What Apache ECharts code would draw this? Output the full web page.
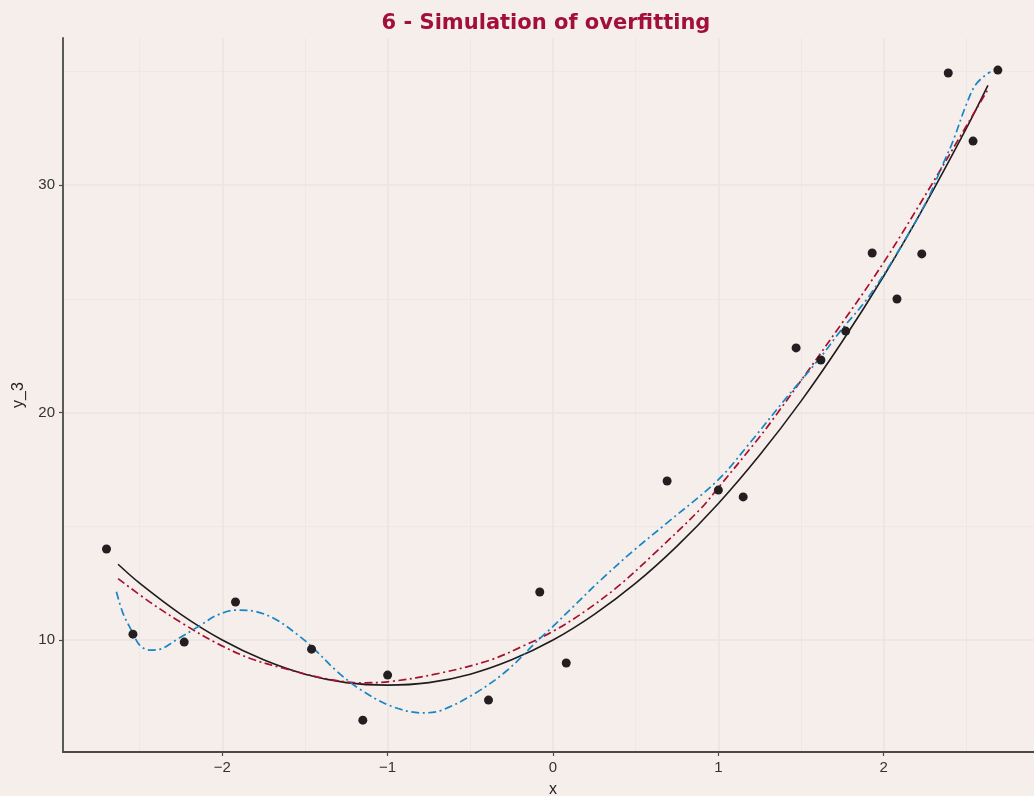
<!DOCTYPE html>
<html>
<head>
<meta charset="utf-8">
<script src="https://cdn.jsdelivr.net/npm/echarts@6/dist/echarts.min.js"></script>
<style>
html,body{margin:0;padding:0;background:#f5eeeb;}
#c{width:1034px;height:796px;}
</style>
</head>
<body>
<div id="c"></div>
<script>
// Observed points
const pointX = [-2.70, -2.54, -2.23, -1.92, -1.46, -1.15, -1.00, -0.39, -0.08, 0.08, 0.69, 1.00, 1.15, 1.47, 1.62, 1.77, 1.93, 2.08, 2.23, 2.39, 2.54, 2.69];
const pointY = [14.00, 10.26, 9.91, 11.67, 9.60, 6.48, 8.46, 7.36, 12.11, 8.99, 16.99, 16.59, 16.29, 22.84, 22.31, 23.58, 27.01, 24.99, 26.97, 34.92, 31.93, 35.05];

// True curve (black solid)
const trueX = [-2.63, -2.5, -2.25, -2.0, -1.75, -1.5, -1.25, -1.0, -0.75, -0.5, -0.25, 0.0, 0.25, 0.5, 0.75, 1.0, 1.25, 1.5, 1.75, 2.0, 2.25, 2.5, 2.63];
const trueY = [13.33, 12.50, 11.13, 10.00, 9.13, 8.50, 8.13, 8.02, 8.13, 8.50, 9.13, 10.00, 11.13, 12.50, 14.13, 16.00, 18.13, 20.50, 23.13, 26.00, 29.13, 32.50, 34.38];

// Quadratic fit (red dash-dot)
const fitX = [-2.63, -2.44, -2.24, -2.03, -1.83, -1.63, -1.37, -1.17, -0.98, -0.68, -0.38, -0.18, 0.0, 0.2, 0.4, 0.59, 0.89, 1.0, 1.23, 1.33, 1.74, 2.0, 2.28, 2.48, 2.63];
const fitY = [12.70, 11.68, 10.73, 9.85, 9.19, 8.76, 8.30, 8.12, 8.18, 8.55, 9.12, 9.74, 10.38, 11.30, 12.40, 13.65, 15.75, 16.70, 18.75, 19.70, 23.85, 26.60, 29.90, 32.35, 34.20];

// Overfitted polynomial (blue dash-dot)
const overX = [-2.64, -2.60, -2.55, -2.50, -2.44, -2.38, -2.28, -2.13, -2.03, -1.91, -1.79, -1.67, -1.53, -1.45, -1.31, -1.17, -0.98, -0.79, -0.68, -0.48, -0.28, -0.09, 0.0, 0.12, 0.29, 0.49, 0.69, 1.00, 1.20, 1.40, 1.62, 1.74, 1.90, 2.08, 2.26, 2.36, 2.42, 2.50, 2.56, 2.645];
const overY = [12.12, 11.17, 10.44, 9.78, 9.56, 9.59, 10.00, 10.66, 11.10, 11.32, 11.24, 10.88, 10.15, 9.65, 8.65, 7.85, 7.10, 6.80, 6.90, 7.62, 8.65, 10.00, 10.60, 11.45, 12.65, 13.95, 15.15, 17.05, 18.75, 20.55, 22.45, 23.60, 25.00, 27.00, 29.30, 30.95, 31.95, 33.55, 34.45, 34.98];

// Axis ticks
const xTicks = [-2, -1, 0, 1, 2];
const xMinor = [-2.5, -1.5, -0.5, 0.5, 1.5, 2.5];
const yTicks = [10, 20, 30];
const yMinor = [15, 25, 35];

const zip = (a, b) => a.map((v, i) => [v, b[i]]);
const fmt = v => (v < 0 ? '\u2212' + Math.abs(v) : String(v));

const majorStyle = {color: '#e8e5e4', width: 1.6, type: 'solid'};
const minorStyle = {color: '#ebe8e7', width: 1, type: 'solid'};
const gridLines = [
  ...xMinor.map(v => ({xAxis: v, lineStyle: minorStyle})),
  ...yMinor.map(v => ({yAxis: v, lineStyle: minorStyle})),
  ...xTicks.map(v => ({xAxis: v, lineStyle: majorStyle})),
  ...yTicks.map(v => ({yAxis: v, lineStyle: majorStyle}))
];

const axisFont = {fontFamily: 'Liberation Sans, Arial, sans-serif', fontSize: 15, color: '#333333'};

const chart = echarts.init(document.getElementById('c'), null, {renderer: 'canvas'});
chart.setOption({
  backgroundColor: '#f5eeeb',
  animation: false,
  title: {
    text: '6 - Simulation of overfitting',
    left: 541, top: 8, textAlign: 'center',
    textStyle: {fontFamily: 'DejaVu Sans, sans-serif', fontWeight: 'bold', fontSize: 21, color: '#a30f3b'}
  },
  grid: {left: 63, top: 38, right: -9, bottom: 44, containLabel: false, outerBoundsMode: 'none'},
  xAxis: {
    type: 'value', min: -2.963, max: 2.963,
    name: 'x', nameLocation: 'middle', nameGap: 30,
    nameTextStyle: {fontFamily: 'Liberation Sans, Arial, sans-serif', fontSize: 16, color: '#222'},
    axisLine: {show: true, onZero: false, lineStyle: {color: '#4a4a4a', width: 1.8}},
    axisTick: {show: true, length: 4, customValues: xTicks, lineStyle: {color: '#4a4a4a', width: 1.2}},
    axisLabel: Object.assign({customValues: xTicks, margin: 8, formatter: fmt}, axisFont),
    splitLine: {show: false}
  },
  yAxis: {
    type: 'value', min: 5.08, max: 36.46,
    name: 'y_3', nameLocation: 'middle', nameGap: 36, nameRotate: 90,
    nameTextStyle: {fontFamily: 'Liberation Sans, Arial, sans-serif', fontSize: 16, color: '#222'},
    axisLine: {show: true, onZero: false, lineStyle: {color: '#4a4a4a', width: 1.8}},
    axisTick: {show: true, length: 4, customValues: yTicks, lineStyle: {color: '#4a4a4a', width: 1.2}},
    axisLabel: Object.assign({customValues: yTicks, margin: 8, formatter: fmt}, axisFont),
    splitLine: {show: false}
  },
  series: [
    {
      type: 'line', data: [], silent: true, z: 0,
      markLine: {silent: true, z: 0, zlevel: 0, symbol: 'none', label: {show: false}, animation: false, data: gridLines}
    },
    {
      type: 'line', data: zip(trueX, trueY), smooth: 0.35, showSymbol: false, z: 3,
      lineStyle: {color: '#201c1d', width: 1.6, type: 'solid'}
    },
    {
      type: 'line', data: zip(fitX, fitY), smooth: 0.35, showSymbol: false, z: 3,
      lineStyle: {color: '#a8102d', width: 1.7, type: [8, 3.5, 2, 3.5]}
    },
    {
      type: 'line', data: zip(overX, overY), smooth: 0.35, showSymbol: false, z: 3,
      lineStyle: {color: '#1687c4', width: 1.7, type: [8, 3.5, 2, 3.5]}
    },
    {
      type: 'scatter', data: zip(pointX, pointY), symbolSize: 9, z: 10,
      itemStyle: {color: '#231f20', opacity: 1}
    }
  ]
});
</script>
</body>
</html>
